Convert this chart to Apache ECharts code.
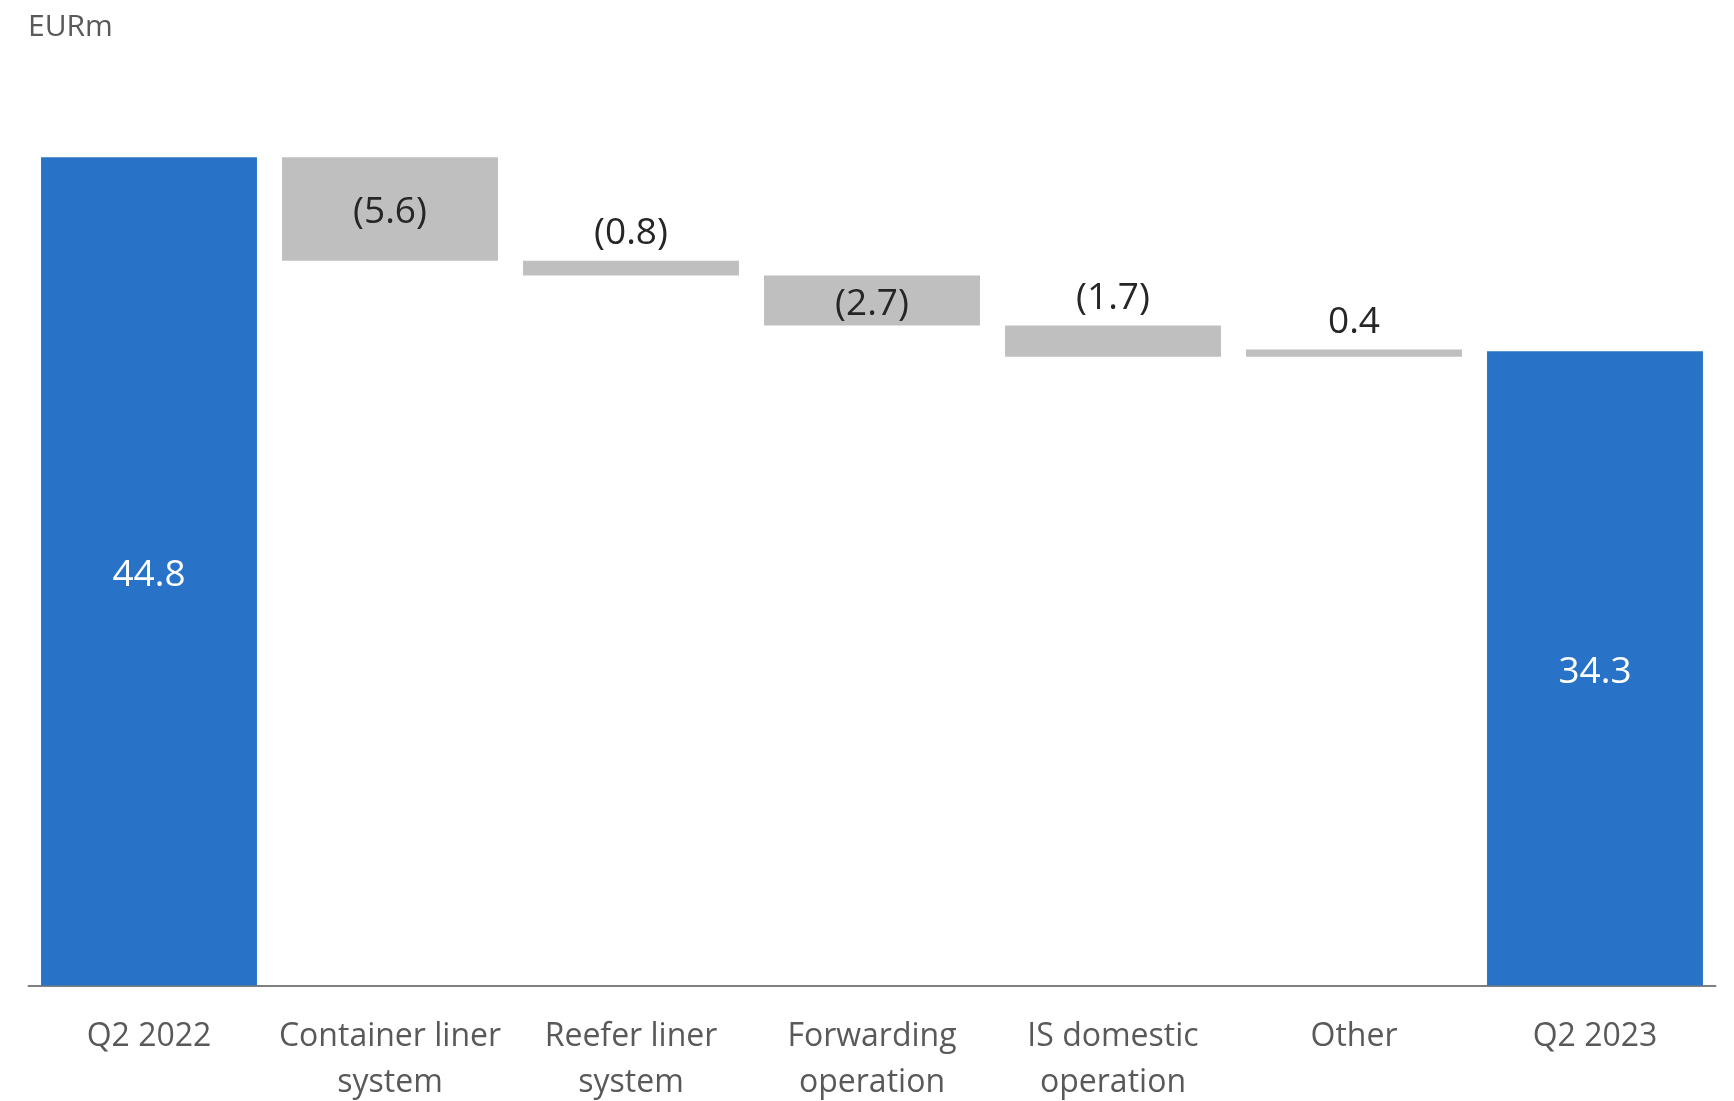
<!DOCTYPE html>
<html>
<head>
<meta charset="utf-8">
<script src="https://cdn.jsdelivr.net/npm/echarts@6/dist/echarts.min.js"></script>
<style>
  html, body { margin: 0; padding: 0; background: #ffffff; }
  #chart { width: 1734px; height: 1101px; }
</style>
</head>
<body>
<div id="chart"></div>
<script>
// ---- data ----
const categories = ['Q2 2022', 'Container liner\nsystem', 'Reefer liner\nsystem', 'Forwarding\noperation', 'IS domestic\noperation', 'Other', 'Q2 2023'];
const startValue = 44.8;
const changes = [-5.6, -0.8, -2.7, -1.7, 0.4];
const endValue = 34.3;
const unitLabel = 'EURm';

// ---- build waterfall stacks ----
const baseData = [];
const barData = [];
baseData.push(0);
barData.push({ value: startValue, kind: 'total', raw: startValue });
let cum = startValue;
changes.forEach(function (c) {
  const lower = c < 0 ? cum + c : cum;
  baseData.push(+lower.toFixed(2));
  barData.push({ value: Math.abs(c), kind: 'delta', raw: c });
  cum += c;
});
baseData.push(0);
barData.push({ value: endValue, kind: 'total', raw: endValue });

const BLUE = '#2873C7';
const GREY = '#BFBFBF';
const FONT = "'Open Sans', 'Noto Sans', sans-serif";

function fmt(v) {
  return v < 0 ? '(' + Math.abs(v).toFixed(1) + ')' : v.toFixed(1);
}

const seriesData = barData.map(function (d) {
  const isTotal = d.kind === 'total';
  const inside = isTotal || Math.abs(d.raw) >= 2;
  return {
    value: d.value,
    itemStyle: { color: isTotal ? BLUE : GREY },
    label: {
      show: true,
      position: inside ? 'inside' : 'top',
      distance: 7,
      offset: inside ? [0, 4] : [0, 0],
      formatter: fmt(d.raw),
      color: isTotal ? '#ffffff' : '#262626',
      fontSize: 37,
      fontFamily: FONT,
      lineHeight: 40
    }
  };
});

const chart = echarts.init(document.getElementById('chart'), null, { renderer: 'canvas' });
chart.setOption({
  animation: false,
  backgroundColor: '#ffffff',
  title: {
    text: unitLabel,
    left: 28,
    top: 12,
    padding: 0,
    textStyle: { fontSize: 30, fontWeight: 'normal', color: '#595959', fontFamily: FONT }
  },
  grid: {
    left: 28.5,
    right: 18.5,
    top: 61,
    bottom: 115.5,
    containLabel: false,
    outerBoundsMode: 'none'
  },
  xAxis: {
    type: 'category',
    data: categories,
    axisTick: { show: false },
    axisLine: { show: true, lineStyle: { color: '#7F7F7F', width: 2 } },
    axisLabel: {
      interval: 0,
      fontSize: 32,
      lineHeight: 46,
      margin: 28,
      color: '#595959',
      fontFamily: FONT
    }
  },
  yAxis: {
    type: 'value',
    min: 0,
    max: 50,
    show: false,
    splitLine: { show: false }
  },
  series: [
    {
      type: 'bar',
      stack: 'wf',
      data: baseData,
      itemStyle: { color: 'transparent' },
      emphasis: { disabled: true },
      silent: true,
      barCategoryGap: '10.4%'
    },
    {
      type: 'bar',
      stack: 'wf',
      data: seriesData,
      barCategoryGap: '10.4%'
    }
  ]
});
</script>
</body>
</html>
